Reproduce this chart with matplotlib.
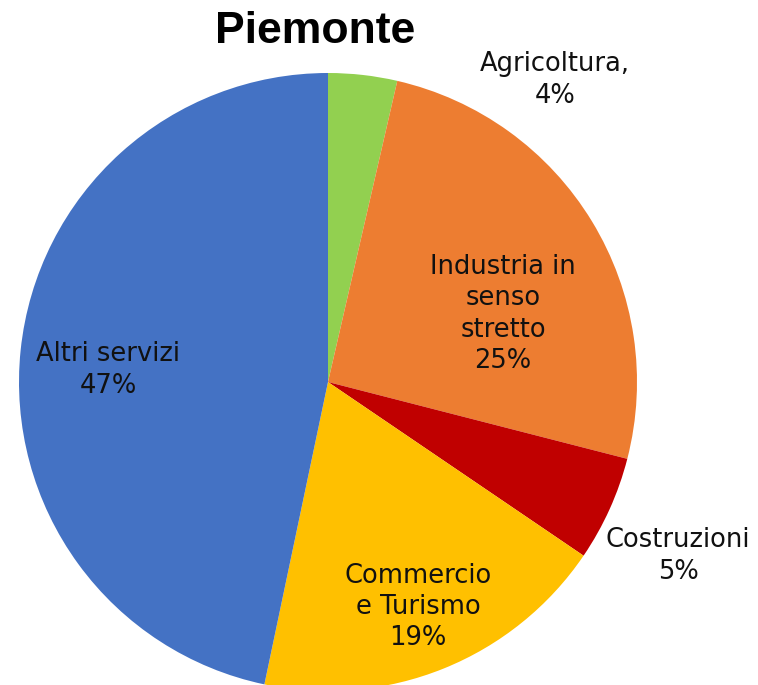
import matplotlib.pyplot as plt

# ----------------------------
# Data
# ----------------------------
sectors = ['Agricoltura,', 'Industria in\nsenso\nstretto', 'Costruzioni',
           'Commercio\ne Turismo', 'Altri servizi']
shares = [3.6, 25.4, 5.5, 18.8, 46.7]
pct_labels = ['4%', '25%', '5%', '19%', '47%']
colors = ['#92D050', '#ED7D31', '#C00000', '#FFC000', '#4472C4']

# label positions in pixel coords (x, y from top)
label_pos = [(555, 80), (503, 314), (678, 556), (418, 607), (108, 370)]

fig = plt.figure(figsize=(7.58, 6.85), dpi=100)
ax = fig.add_axes([0, 0, 1, 1])

ax.pie(shares, colors=colors, startangle=90, counterclock=False,
       center=(328, -382), radius=309, frame=True)
ax.set_xlim(0, 758)
ax.set_ylim(-685, 0)
ax.set_aspect('equal')
ax.axis('off')

for name, pct, (x, y) in zip(sectors, pct_labels, label_pos):
    ax.text(x, -y, name + '\n' + pct, ha='center', va='center',
            fontsize=18.5, linespacing=1.27, color='#111111', family='DejaVu Sans')

#title
ax.text(315, -31, 'Piemonte', ha='center', va='center', fontsize=32,
        fontweight='bold', family='Liberation Sans')

fig.savefig('out.png', dpi=100)
